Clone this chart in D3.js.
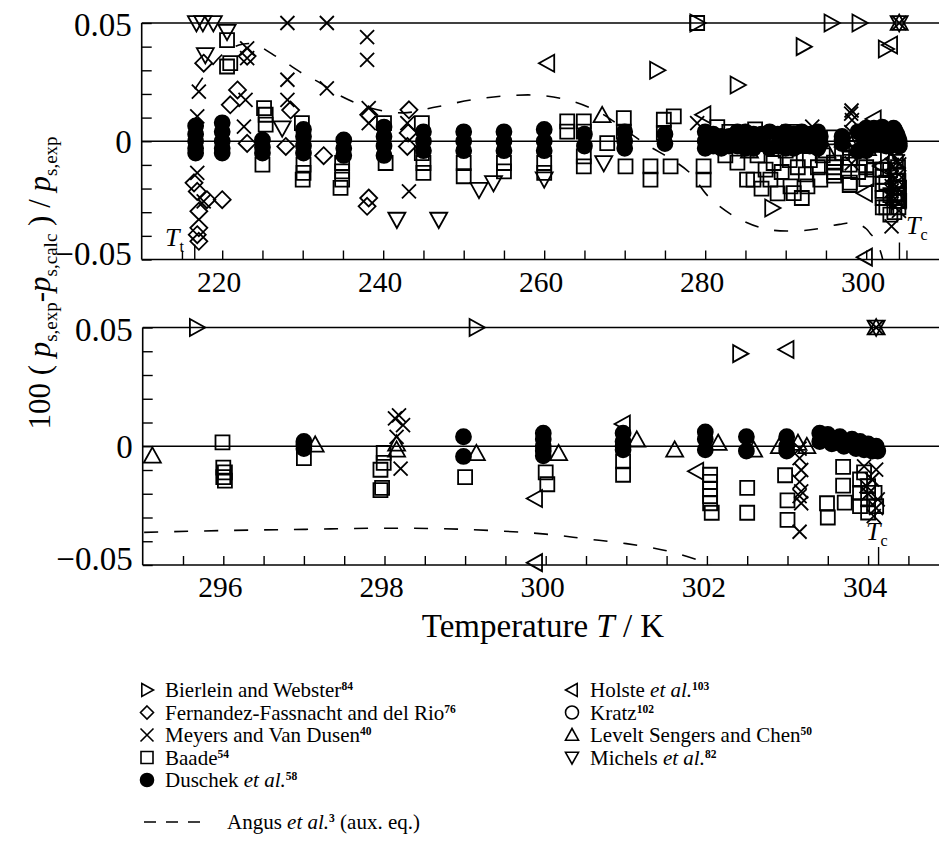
<!DOCTYPE html>
<html>
<head>
<meta charset="utf-8">
<script src="https://cdn.jsdelivr.net/npm/d3@7"></script>
<style>
  body { margin: 0; background: #fff; }
  svg { display: block; }
  svg text { font-family: "Liberation Serif", "DejaVu Serif", serif; fill: #000; }
</style>
</head>
<body>
<svg id="chart" width="939" height="856" font-family="Liberation Serif, DejaVu Serif, serif"></svg>
<script>
// Relative deviations 100(p_exp - p_calc)/p_exp of CO2 vapour pressure, [T / K, deviation]
const bierlein = [[274.0, 0.030], [279.0, 0.05], [284.0, 0.0238], [288.3, -0.0282], [292.2, 0.040],
  [295.67, 0.05], [299.14, 0.05], [302.41, 0.039]];

const fernandez = [[217.7, 0.033], [221.9, 0.0217], [221.0, 0.0154], [223.1, 0.036], [228.5, 0.0132],
  [223.1, -0.0009], [227.9, -0.0022], [232.6, -0.0061], [238.2, 0.0112], [243.2, 0.0133],
  [243.1, 0.0035], [243.0, -0.0022], [238.2, -0.024], [238.0, -0.0275], [216.5, -0.0176],
  [216.9, -0.0212], [218.1, -0.0247], [220.0, -0.0247], [217.1, -0.0296], [217.1, -0.0366],
  [216.9, -0.0395], [217.1, -0.0423]];

const meyers = [[228.1, 0.05], [233.0, 0.05], [238.0, 0.044], [238.0, 0.0344], [223.1, 0.0393],
  [223.1, 0.0351], [228.1, 0.026], [233.0, 0.0224], [228.1, 0.0175], [217.1, 0.021], [216.9, 0.0105],
  [222.7, 0.0062], [222.9, 0.0175], [238.2, 0.014], [238.2, 0.0077], [243.0, 0.0077],
  [216.9, -0.0134], [217.7, -0.0254], [243.2, -0.0212], [279.0, 0.0077], [293.3, 0.0062],
  [298.13, 0.0117], [298.23, 0.0089], [298.15, 0.0039], [298.18, 0.013], [298.2, -0.0094],
  [303.15, -0.001], [303.15, -0.005], [303.17, -0.010], [303.15, -0.015], [303.17, -0.019],
  [303.15, -0.021], [303.17, -0.024], [303.15, -0.036],
  [303.95, -0.0085], [304.1, -0.0098], [304.05, -0.014], [303.98, -0.0168], [304.12, -0.0224],
  [304.07, -0.0294], [304.0, -0.020], [304.1, -0.026], [304.1, 0.05]];

const baade = [[220.6, 0.0428], [220.6, 0.0316], [221.0, 0.033], [225.2, 0.014], [225.4, 0.0112],
  [225.4, 0.007], [225.0, -0.0099], [229.9, 0.0077], [230.1, -0.0099], [230.1, -0.0134],
  [230.0, -0.0162], [234.9, -0.0092], [234.9, -0.0127], [234.9, -0.0162], [234.7, -0.0197],
  [240.1, 0.0077], [240.3, -0.0092], [244.8, 0.0077], [244.8, -0.005], [245.0, -0.0092],
  [245.0, -0.0134], [250.0, -0.0092], [250.0, -0.0148], [255.0, -0.0092], [255.0, -0.0127],
  [260.0, -0.0092], [260.0, -0.0134],
  [262.86, 0.0084], [264.92, 0.0084], [262.86, 0.0041], [264.92, 0.0041], [264.92, -0.0064],
  [264.92, -0.0106], [269.89, 0.0098], [269.89, 0.0041], [267.83, -0.0008], [270.1, -0.0106],
  [273.2, -0.0106], [273.2, -0.0162], [274.86, 0.0091], [276.1, 0.0105], [274.86, 0.0035],
  [275.7, -0.0106], [279.8, -0.0106], [279.8, -0.0162], [279.0, 0.05], [284.4, 0.0035],
  [285.2, -0.0162], [286.0, -0.0162], [288.1, -0.0162], [288.5, -0.0092], [290.6, -0.0191],
  [291.0, -0.0219], [292.7, -0.0191], [294.3, -0.0162], [287.0, -0.020], [289.5, -0.013],
  [291.5, -0.011], [293.0, -0.008], [286.5, -0.006], [290.0, -0.004], [292.0, -0.024],
  [289.0, -0.022], [294.0, -0.011], [281.5, 0.006], [283.0, 0.004], [286.2, 0.005],
  [288.0, 0.003], [291.0, 0.004], [293.5, 0.002], [282.5, -0.006], [284.0, -0.009],
  [287.5, -0.012], [290.5, -0.008], [292.5, -0.014], [294.6, -0.006],
  [295.99, 0.0016], [296.0, -0.009], [296.02, -0.011], [296.0, -0.013], [296.02, -0.0145],
  [297.0, -0.005], [297.99, -0.0028], [297.99, -0.007], [297.95, -0.0099], [297.97, -0.0175],
  [297.95, -0.0185], [299.0, -0.013], [300.0, -0.011], [300.02, -0.016], [300.96, -0.0064],
  [300.96, -0.012], [302.04, -0.012], [302.04, -0.015], [302.04, -0.018], [302.04, -0.021],
  [302.04, -0.024], [302.06, -0.028], [302.5, -0.0175], [302.5, -0.028], [302.97, -0.0122],
  [303.0, -0.0228], [303.0, -0.031], [303.49, -0.024], [303.5, -0.030], [303.69, -0.0087],
  [303.69, -0.0166], [303.71, -0.0237], [303.9, -0.014], [303.9, -0.0196], [303.9, -0.0252],
  [304.0, -0.0168], [304.0, -0.0224], [304.08, -0.0196], [304.1, -0.0252], [304.0, -0.0279],
  [303.95, -0.011]];

const duschek = [[216.7, 0.0065], [216.7, 0.003], [216.7, 0], [216.7, -0.003], [216.7, -0.005],
  [220.0, 0.0078], [220.0, 0.004], [220.0, 0], [220.0, -0.003], [220.0, -0.005],
  [225.0, 0.0006], [225.0, -0.0025], [225.0, -0.005],
  [230.1, 0.005], [230.1, 0.002], [230.1, -0.002], [230.1, -0.005],
  [235.1, 0.0006], [235.1, -0.003], [235.1, -0.006],
  [240.1, 0.006], [240.1, 0.002], [240.1, -0.002], [240.1, -0.006],
  [245.0, 0.004], [245.0, 0], [245.0, -0.004], [250.0, 0.004], [250.0, 0], [250.0, -0.004],
  [255.0, 0.004], [255.0, 0], [255.0, -0.004], [260.0, 0.005], [260.0, 0], [260.0, -0.004],
  [265.0, 0.003], [265.0, -0.002], [270.0, 0.004], [270.0, 0], [270.0, -0.003],
  [275.0, 0.003], [275.0, -0.001], [280.0, 0.004], [280.0, 0], [280.0, -0.003],
  [281.0, 0.003], [281.0, -0.002], [282.0, 0.002], [282.0, -0.003], [283.0, 0.002],
  [283.0, -0.002], [284.0, 0.004], [284.0, -0.002], [285.0, 0.004], [285.0, 0], [285.0, -0.003],
  [286.0, 0.003], [286.0, -0.003], [287.0, 0.003], [287.0, -0.001], [288.0, 0.004],
  [288.0, -0.003], [289.0, 0.003], [289.0, -0.002], [290.0, 0.004],
  [290.0, 0], [290.0, -0.003], [291.0, 0.003], [291.0, -0.003], [291.5, 0.002], [291.5, -0.002],
  [292.0, 0.004], [292.0, -0.001], [293.0, 0.003], [293.0, -0.002], [294.0, 0.004],
  [294.0, -0.003], [294.3, 0.002], [294.3, -0.001],
  [297.0, 0.002], [297.0, 0.0005], [297.0, -0.001], [298.98, 0.004], [298.98, -0.0043],
  [299.97, 0.0055], [299.97, 0.003], [299.97, 0], [299.97, -0.002], [299.97, -0.004],
  [300.96, 0.0055], [300.96, 0.002], [300.96, 0], [300.96, -0.0015],
  [301.98, 0.006], [301.98, 0.003], [301.98, -0.0015], [302.49, 0.004], [302.49, -0.002],
  [302.99, 0.004], [302.99, 0], [302.99, -0.002], [303.4, 0.0055], [303.4, 0.002],
  [303.5, 0.005], [303.55, 0.001], [303.65, 0.004], [303.7, 0], [303.8, 0.003], [303.85, -0.001],
  [303.9, 0.002], [303.95, -0.0015], [304.0, 0.001], [304.05, -0.002], [304.1, 0], [304.12, -0.002]];

const holste = [[260.4, 0.033], [279.8, 0.0112], [299.87, -0.022], [299.87, -0.049],
  [300.96, 0.0094], [301.87, -0.0105], [302.99, 0.0407]];

const kratz = [[303.45, 0.003], [303.6, 0.0015], [303.75, 0.001], [303.95, 0.0], [304.08, -0.001]];

const levelt = [[267.2, 0.011], [281.0, 0.001], [285.5, -0.004], [289.5, 0.003], [292.5, -0.002],
  [295.12, -0.004], [297.14, 0.0006], [298.15, 0.001], [298.15, -0.0015], [299.14, -0.003],
  [300.16, -0.003], [301.13, 0.0027], [301.6, -0.0015], [302.14, 0.0013], [302.58, -0.0015],
  [302.9, 0.0], [303.13, 0.0013], [303.24, 0.0], [304.1, 0.05]];

const michels = [[216.8, 0.05], [217.6, 0.05], [218.9, 0.05], [220.6, 0.0463], [217.9, 0.0365],
  [227.45, 0.0055], [241.7, -0.0331], [246.9, -0.0331], [251.9, -0.0205], [253.7, -0.0176],
  [260.0, -0.016], [267.4, -0.0092], [304.1, 0.05]];

// Auxiliary equation of Angus et al. relative to the reference equation
const angus = [[216.6, 0.022], [218.5, 0.031], [220.5, 0.038], [222.5, 0.041], [224.0, 0.041],
  [227.0, 0.0352], [230.3, 0.028], [232.0, 0.025], [234.7, 0.0192], [238.4, 0.0141],
  [242.5, 0.012], [246.7, 0.0146], [251.0, 0.0175], [255.2, 0.0192], [259.5, 0.0194],
  [263.3, 0.0171], [267.0, 0.012], [270.0, 0.005], [273.0, -0.002], [276.0, -0.008],
  [278.2, -0.0137], [280.4, -0.0234], [283.9, -0.0323], [287.8, -0.0373], [291.8, -0.0378],
  [294.0, -0.037], [296.0, -0.0355], [297.0, -0.035], [298.0, -0.0345], [299.0, -0.035],
  [300.0, -0.037], [300.5, -0.039], [301.0, -0.041], [301.5, -0.044], [301.9, -0.048],
  [302.05, -0.05]];

const T_triple = 216.59, T_crit = 304.13;
const topTicksLabelled = [220, 240, 260, 280, 300];
const botTicksLabelled = [296, 298, 300, 302, 304];
const yTickLabels = [0.05, 0, -0.05];

// ---------------------------------------------------------------------------
const FONT = "Liberation Serif, DejaVu Serif, serif";
const svg = d3.select("#chart");

const panels = [
  { x: d3.scaleLinear().domain([210, 310]).range([141.7, 946.7]),
    y: d3.scaleLinear().domain([-0.05, 0.05]).range([259.5, 23]),
    minor: d3.range(215, 306, 5), labels: topTicksLabelled, tMin: 209, id: "top" },
  { x: d3.scaleLinear().domain([295, 305]).range([142.7, 948.7]),
    y: d3.scaleLinear().domain([-0.05, 0.05]).range([565, 327.5]),
    minor: d3.range(295.5, 305, 0.5), labels: botTicksLabelled, tMin: 294.95, id: "bot" }
];

// marker shapes, centred on the origin
const shapes = {
  right: h => `M${-0.8 * h},${-h}L${h},0L${-0.8 * h},${h}Z`,
  left: h => `M${0.8 * h},${-h}L${-h},0L${0.8 * h},${h}Z`,
  up: h => `M${-h},${0.8 * h}L0,${-h}L${h},${0.8 * h}Z`,
  down: h => `M${-h},${-0.8 * h}L0,${h}L${h},${-0.8 * h}Z`,
  diamond: h => `M0,${-h}L${h},0L0,${h}L${-h},0Z`,
  cross: h => `M${-h},${-h}L${h},${h}M${h},${-h}L${-h},${h}`,
  square: h => `M${-h},${-h}H${h}V${h}H${-h}Z`,
  circle: h => `M${h},0A${h},${h} 0 1 1 ${-h},0A${h},${h} 0 1 1 ${h},0Z`
};

const series = [
  { data: duschek, shape: "circle", size: 7.5, filled: true },
  { data: kratz, shape: "circle", size: 7.5 },
  { data: baade, shape: "square", size: 7 },
  { data: fernandez, shape: "diamond", size: 8.5 },
  { data: meyers, shape: "cross", size: 7 },
  { data: levelt, shape: "up", size: 8.5 },
  { data: michels, shape: "down", size: 8.5 },
  { data: holste, shape: "left", size: 8.5 },
  { data: bierlein, shape: "right", size: 8.5 }
];

function txt(sel) { return sel.append("text").attr("font-family", FONT); }

const defs = svg.append("defs");

panels.forEach(p => {
  const [x0] = p.x.range();
  const yTop = p.y(0.05), yBot = p.y(-0.05);
  defs.append("clipPath").attr("id", "clip-" + p.id)
    .append("rect").attr("x", p.x(p.tMin + 0.05)).attr("y", yTop - 20)
    .attr("width", 939 - p.x(p.tMin)).attr("height", yBot - yTop + 20);

  const g = svg.append("g");

  // reference lines at +0.05 and 0
  g.append("line").attr("x1", x0).attr("x2", 939).attr("y1", yTop).attr("y2", yTop)
    .attr("stroke", "#000").attr("stroke-width", 1.6);
  g.append("line").attr("x1", x0).attr("x2", 939).attr("y1", p.y(0)).attr("y2", p.y(0))
    .attr("stroke", "#000").attr("stroke-width", 1.6);

  // left axis with inward ticks every 0.01
  const yAxis = d3.axisRight(p.y).tickValues(d3.range(-0.05, 0.0501, 0.01)).tickSize(10)
    .tickFormat("");
  g.append("g").attr("transform", `translate(${x0},0)`).call(yAxis)
    .call(a => a.select(".domain").attr("d", `M0,${yTop}V${yBot}`).attr("stroke-width", 1.6))
    .call(a => a.selectAll(".tick line").attr("stroke-width", 1.4));

  yTickLabels.forEach(d => {
    txt(g).attr("x", x0 - 10).attr("y", p.y(d) + (d === 0.05 ? 2 : d === -0.05 ? -6 : 1))
      .attr("text-anchor", "end").attr("dominant-baseline", "central")
      .attr("font-size", 33).text(d === 0 ? "0" : d3.format(".2f")(d));
  });

  // bottom axis with upward ticks
  const xAxis = d3.axisTop(p.x).tickValues(p.minor).tickSize(9).tickFormat("");
  g.append("g").attr("transform", `translate(0,${yBot})`).call(xAxis)
    .call(a => a.select(".domain").attr("d", `M${x0},0H939`).attr("stroke-width", 1.6))
    .call(a => a.selectAll(".tick line").attr("stroke-width", 1.4));

  p.labels.forEach(d => {
    txt(g).attr("x", p.x(d) - 3).attr("y", yBot + 32)
      .attr("text-anchor", "middle").attr("font-size", 29.5).text(d);
  });

  // Angus et al. auxiliary equation
  const line = d3.line().x(d => p.x(d[0])).y(d => p.y(d[1])).curve(d3.curveCatmullRom);
  g.append("path").attr("d", line(angus)).attr("clip-path", `url(#clip-${p.id})`)
    .attr("fill", "none").attr("stroke", "#000").attr("stroke-width", 1.6)
    .attr("stroke-dasharray", "14,16");

  // data markers
  series.forEach(s => {
    g.append("g").selectAll("path")
      .data(s.data.filter(d => d[0] >= p.tMin))
      .join("path")
      .attr("transform", d => `translate(${p.x(d[0])},${p.y(d[1])})`)
      .attr("d", shapes[s.shape](s.size))
      .attr("fill", s.filled ? "#000" : "none")
      .attr("stroke", "#000").attr("stroke-width", 1.8);
  });
});

// triple and critical point markers
const [pt, pb] = panels;
function markTemp(p, T, len) {
  const yb = p.y(-0.05);
  svg.append("line").attr("x1", p.x(T)).attr("x2", p.x(T)).attr("y1", yb).attr("y2", yb - len)
    .attr("stroke", "#000").attr("stroke-width", 1.4);
}
function tLabel(x, y, sub) {
  const t = txt(svg).attr("x", x).attr("y", y).attr("font-size", 26);
  t.append("tspan").attr("font-style", "italic").text("T");
  t.append("tspan").attr("font-size", 16).attr("dy", 6).text(sub);
}
markTemp(pt, T_triple, 15);
markTemp(pt, T_crit, 17);
markTemp(pb, T_crit, 18);
tLabel(165, 246, "t");
tLabel(906, 234, "c");
tLabel(866, 540, "c");

// axis titles
const xt = txt(svg).attr("x", 543).attr("y", 637).attr("text-anchor", "middle")
  .attr("font-size", 33);
xt.append("tspan").text("Temperature  ");
xt.append("tspan").attr("font-style", "italic").text("T");
xt.append("tspan").text(" / K");

const yt = txt(svg).attr("transform", "translate(50,283) rotate(-90)")
  .attr("text-anchor", "middle").attr("font-size", 31);
function ySub(s) {
  yt.append("tspan").attr("font-style", "italic").text("p");
  yt.append("tspan").attr("font-size", 19).attr("dy", 7).text(s);
}
yt.append("tspan").text("100 ( ");
ySub("s,exp");
yt.append("tspan").attr("dy", -7).text("-");
ySub("s,calc");
yt.append("tspan").attr("dy", -7).text(" ) / ");
ySub("s,exp");

// legend
const legendLeft = [
  { shape: "right", parts: [["Bierlein and Webster"], ["84", "sup"]] },
  { shape: "diamond", parts: [["Fernandez-Fassnacht and del Rio"], ["76", "sup"]] },
  { shape: "cross", parts: [["Meyers and Van Dusen"], ["40", "sup"]] },
  { shape: "square", parts: [["Baade"], ["54", "sup"]] },
  { shape: "circle", filled: true, parts: [["Duschek "], ["et al.", "it"], ["58", "sup"]] }
];
const legendRight = [
  { shape: "left", parts: [["Holste "], ["et al.", "it"], ["103", "sup"]] },
  { shape: "circle", parts: [["Kratz"], ["102", "sup"]] },
  { shape: "up", parts: [["Levelt Sengers and Chen"], ["50", "sup"]] },
  { shape: "down", parts: [["Michels "], ["et al.", "it"], ["82", "sup"]] }
];
const rowY = [690, 712.5, 735, 757.5, 780];

function legendText(x, y, parts) {
  const t = txt(svg).attr("x", x).attr("y", y + 7).attr("font-size", 21);
  let raised = false;
  parts.forEach(([s, style]) => {
    const sp = t.append("tspan").text(s);
    if (style === "it") sp.attr("font-style", "italic");
    if (style === "sup") {
      sp.attr("font-size", 11.5).attr("font-weight", "bold").attr("dy", -7);
      raised = true;
    } else if (raised) {
      sp.attr("dy", 7);
      raised = false;
    }
  });
}
function legendColumn(items, xs, xt) {
  items.forEach((it, i) => {
    svg.append("path").attr("transform", `translate(${xs},${rowY[i]})`)
      .attr("d", shapes[it.shape](it.shape === "square" ? 6 : 6.5))
      .attr("fill", it.filled ? "#000" : "none").attr("stroke", "#000").attr("stroke-width", 1.6);
    legendText(xt, rowY[i], it.parts);
  });
}
legendColumn(legendLeft, 147, 165);
legendColumn(legendRight, 572, 590);

svg.append("line").attr("x1", 144).attr("x2", 210).attr("y1", 822).attr("y2", 822)
  .attr("stroke", "#000").attr("stroke-width", 1.6).attr("stroke-dasharray", "12,10");
legendText(227, 822, [["Angus "], ["et al.", "it"], ["3", "sup"], [" (aux. eq.)"]]);
</script>
</body>
</html>
